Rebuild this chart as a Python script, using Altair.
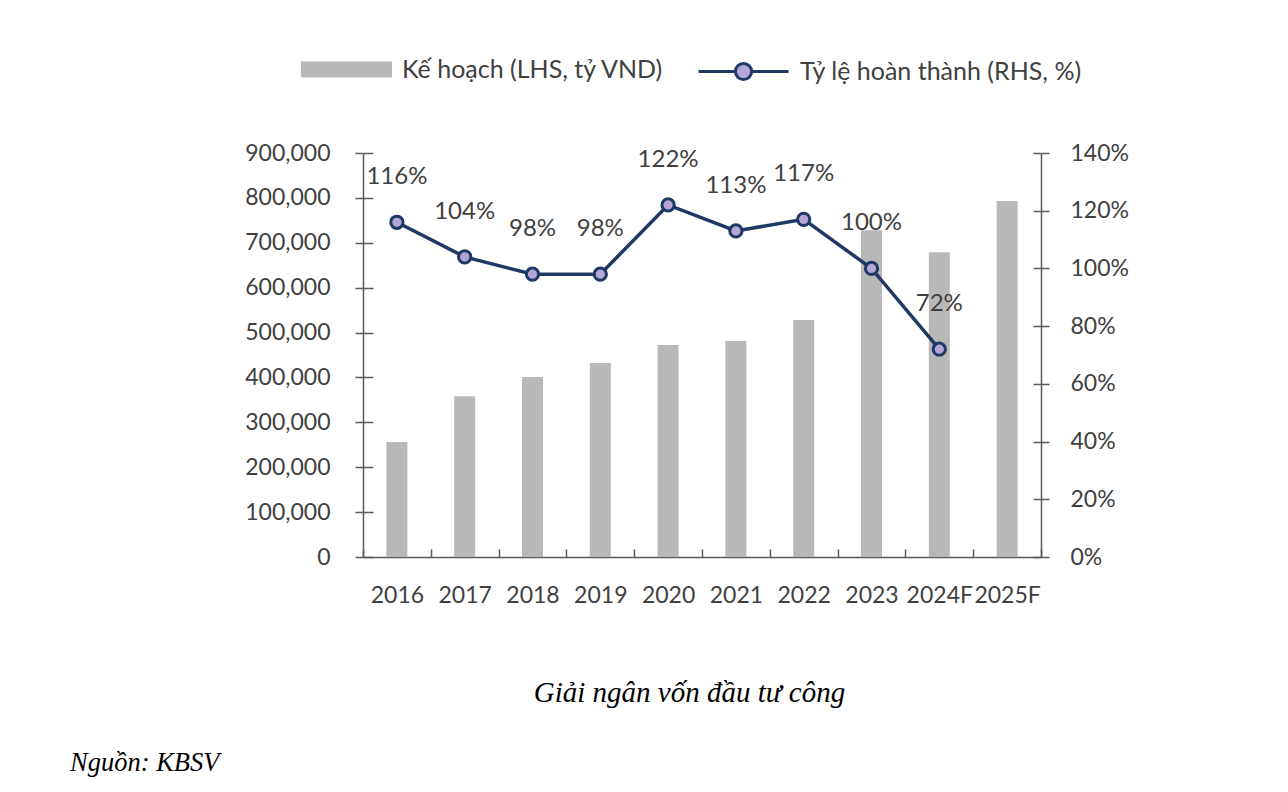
import altair as alt
import pandas as pd

years = ["2016", "2017", "2018", "2019", "2020", "2021", "2022", "2023", "2024F", "2025F"]
plan = [256000, 358000, 401000, 432000, 472000, 481000, 528000, 728000, 679000, 793000]
rate = [1.16, 1.04, 0.98, 0.98, 1.22, 1.13, 1.17, 1.00, 0.72, None]

bar_name = "Kế hoạch (LHS, tỷ VND)"
line_name = "Tỷ lệ hoàn thành (RHS, %)"

df = pd.DataFrame({"year": years, "plan": plan, "rate": rate})
df["bar_series"] = bar_name
df["line_series"] = line_name

grey = "#b8b8b8"
navy = "#1f3864"
lilac = "#b4a7d6"
ink = "#404040"
axis_col = "#595959"

# x grid runs top->bottom, so the dash is pushed to the bottom end (inner tick stubs)
x = alt.X(
    "year:N", sort=years,
    scale=alt.Scale(paddingInner=0, paddingOuter=0),
    axis=alt.Axis(
        title="Giải ngân vốn đầu tư công", labelAngle=0, ticks=False, labelPadding=27,
        tickBand="extent", grid=True, gridDash=[0, 396, 8, 1000], gridColor=axis_col,
        gridWidth=1.5,
        titleFont="Liberation Serif", titleFontStyle="italic", titleFontWeight="normal",
        titleFontSize=29, titleColor="black", titleX=326, titleY=135,
        titleAlign="center", titleBaseline="middle",
    ),
)

bars = alt.Chart(df).mark_bar(size=21).encode(
    x=x,
    y=alt.Y(
        "plan:Q",
        scale=alt.Scale(domain=[0, 900000]),
        axis=alt.Axis(
            title=None, values=list(range(0, 900001, 100000)), format=",.0f",
            tickSize=8, labelPadding=25, grid=True, gridDash=[10, 1000],
            gridColor=axis_col, gridWidth=1.5,
        ),
    ),
    color=alt.Color(
        "bar_series:N",
        scale=alt.Scale(domain=[bar_name], range=[grey]),
        legend=alt.Legend(
            title=None, orient="none", legendX=-62, legendY=-129, padding=0,
            symbolType="M-1,-0.176H1V0.176H-1Z", symbolSize=8281, symbolStrokeWidth=0,
            labelOffset=10, labelLimit=400,
        ),
    ),
)

y_rate = alt.Y(
    "rate:Q",
    scale=alt.Scale(domain=[0, 1.4]),
    axis=alt.Axis(
        title=None, orient="right", values=[0, 0.2, 0.4, 0.6, 0.8, 1.0, 1.2, 1.4],
        format=".0%", tickSize=8, labelPadding=21, grid=True, gridDash=[8, 1000],
        gridColor=axis_col, gridWidth=1.5,
    ),
)

base = alt.Chart(df).transform_filter("isValid(datum.rate)")

line = base.mark_line(color=navy, strokeWidth=3.5).encode(x=x, y=y_rate)

points = base.mark_point(filled=True, size=150, stroke=navy, strokeWidth=3, opacity=1).encode(
    x=x,
    y=y_rate,
    fill=alt.Fill(
        "line_series:N",
        scale=alt.Scale(domain=[line_name], range=[lilac]),
        legend=alt.Legend(
            title=None, orient="none", legendX=334, legendY=-128, padding=0,
            symbolType="M-1,0H-0.18M0.18,0H1M0.18,0A0.18,0.18,0,1,1,-0.18,0A0.18,0.18,0,1,1,0.18,0Z",
            symbolSize=8100, symbolStrokeColor=navy, symbolStrokeWidth=3,
            labelOffset=10, labelLimit=400,
        ),
    ),
)

labels = base.mark_text(dy=-45, fontSize=24, color=ink).encode(
    x=x, y=y_rate, text=alt.Text("rate:Q", format=".0%")
)

chart = alt.layer(bars, alt.layer(line, points, labels)).resolve_scale(
    y="independent"
).properties(
    width=678,
    height=404,
    autosize=alt.AutoSizeParams(type="none"),
    padding={"left": 355, "top": 145, "right": 231, "bottom": 227},
    title=alt.TitleParams(
        "Nguồn: KBSV", orient="bottom", anchor="start", frame="group", dx=-293, offset=43,
        font="Liberation Serif", fontStyle="italic", fontWeight="normal", fontSize=26.5,
        color="black",
    ),
    background="white",
).configure(
    font="Lato"
).configure_axis(
    labelFontSize=23, labelColor=ink, domainColor=axis_col, domainWidth=1.5,
    tickColor=axis_col, tickWidth=1.5,
).configure_legend(
    labelFontSize=25, labelColor=ink,
).configure_view(
    strokeWidth=0
)

chart.save("out.html", embed_options={"renderer": "svg", "actions": False})
